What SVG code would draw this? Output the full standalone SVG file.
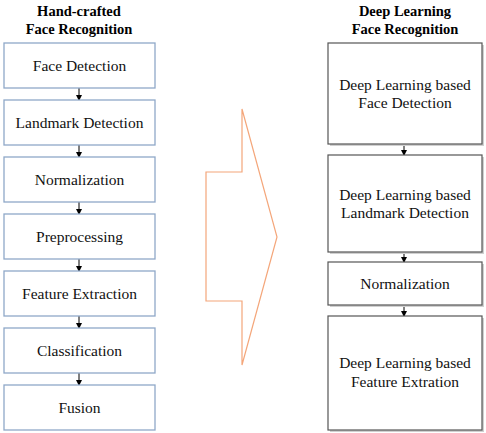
<svg xmlns="http://www.w3.org/2000/svg" width="486" height="433" viewBox="0 0 486 433">
<defs>
<marker id="ah" markerWidth="6" markerHeight="6" refX="5" refY="3" orient="auto" markerUnits="userSpaceOnUse">
<path d="M0,0 L6,3 L0,6 Z" fill="#000"/>
</marker>
<style>
.t{font-family:"Liberation Serif","Times New Roman",serif;font-size:15.5px;fill:#111;text-anchor:middle}
.h{font-family:"Liberation Serif","Times New Roman",serif;font-size:14.5px;font-weight:bold;fill:#000;text-anchor:middle}
.lb{fill:#fff;stroke:#8fa8c8;stroke-width:1.3}
.rb{fill:#fff;stroke:#555;stroke-width:1.2}
.sh{fill:#d0d0d0}
.c{stroke:#000;stroke-width:1;fill:none;marker-end:url(#ah)}
</style>
</defs>
<rect width="486" height="433" fill="#fff"/>
<g id="titles">
<text class="h" x="79" y="16">Hand-crafted</text>
<text class="h" x="79" y="34">Face Recognition</text>
<text class="h" x="405" y="16">Deep Learning</text>
<text class="h" x="405" y="34">Face Recognition</text>
</g>
<g id="connectors">
<line class="c" x1="79" y1="88" x2="79" y2="100"/>
<line class="c" x1="79" y1="145" x2="79" y2="157"/>
<line class="c" x1="79" y1="202" x2="79" y2="214"/>
<line class="c" x1="79" y1="259" x2="79" y2="271"/>
<line class="c" x1="79" y1="316" x2="79" y2="328"/>
<line class="c" x1="79" y1="373" x2="79" y2="385"/>
<line class="c" x1="404" y1="144" x2="404" y2="155"/>
<line class="c" x1="404" y1="252" x2="404" y2="262"/>
<line class="c" x1="404" y1="305" x2="404" y2="316"/>
</g>
<g id="hc-face-detection"><rect class="lb" x="4" y="43" width="151" height="45"/><text class="t" x="79.5" y="71">Face Detection</text></g>
<g id="hc-landmark"><rect class="lb" x="4" y="100" width="151" height="45"/><text class="t" x="79.5" y="128">Landmark Detection</text></g>
<g id="hc-normalization"><rect class="lb" x="4" y="157" width="151" height="45"/><text class="t" x="79.5" y="185">Normalization</text></g>
<g id="hc-preprocessing"><rect class="lb" x="4" y="214" width="151" height="45"/><text class="t" x="79.5" y="242">Preprocessing</text></g>
<g id="hc-feature"><rect class="lb" x="4" y="271" width="151" height="45"/><text class="t" x="79.5" y="299">Feature Extraction</text></g>
<g id="hc-classification"><rect class="lb" x="4" y="328" width="151" height="45"/><text class="t" x="79.5" y="356">Classification</text></g>
<g id="hc-fusion"><rect class="lb" x="4" y="385" width="151" height="45"/><text class="t" x="79.5" y="413">Fusion</text></g>
<g id="big-arrow">
<polygon points="242,109 242,172 206,172 206,301 242,301 242,365 277,237" fill="none" stroke="#f4a67a" stroke-width="1.2"/>
</g>
<g id="dl-face-detection"><rect class="sh" x="330" y="45" width="154" height="101"/><rect class="rb" x="328" y="43" width="154" height="101"/><text class="t" x="405" y="90">Deep Learning based</text><text class="t" x="405" y="108">Face Detection</text></g>
<g id="dl-landmark"><rect class="sh" x="330" y="157" width="154" height="97"/><rect class="rb" x="328" y="155" width="154" height="97"/><text class="t" x="405" y="200">Deep Learning based</text><text class="t" x="405" y="218">Landmark Detection</text></g>
<g id="dl-normalization"><rect class="sh" x="330" y="264" width="154" height="43"/><rect class="rb" x="328" y="262" width="154" height="43"/><text class="t" x="405" y="289">Normalization</text></g>
<g id="dl-feature"><rect class="sh" x="330" y="318" width="154" height="114"/><rect class="rb" x="328" y="316" width="154" height="114"/><text class="t" x="405" y="368">Deep Learning based</text><text class="t" x="405" y="387">Feature Extration</text></g>
</svg>
